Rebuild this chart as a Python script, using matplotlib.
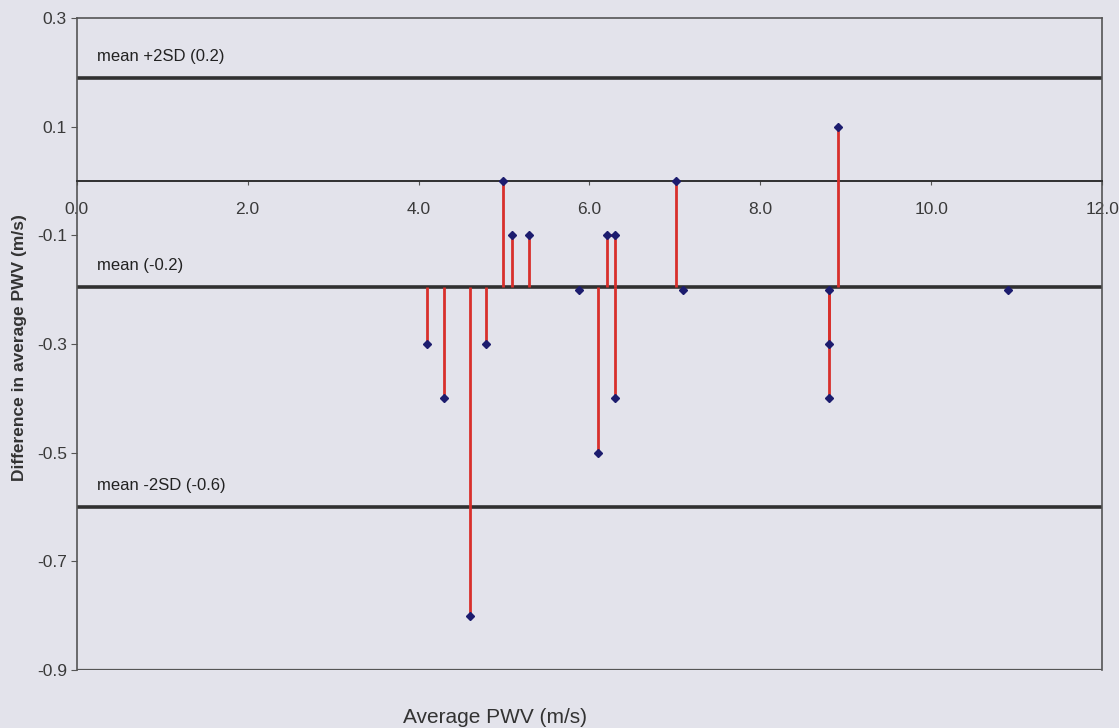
import numpy as np
import matplotlib.pyplot as plt

# Bland-Altman style data: average PWV vs difference (m/s)
avg_pwv = [4.10, 4.30, 4.60, 4.79, 4.99, 5.09, 5.29, 5.88, 6.10, 6.20, 6.30, 6.30,
           7.01, 7.10, 8.80, 8.80, 8.80, 8.91, 10.90]
diff_pwv = [-0.3, -0.4, -0.8, -0.3, 0.0, -0.1, -0.1, -0.2, -0.5, -0.1, -0.1, -0.4,
            0.0, -0.2, -0.2, -0.3, -0.4, 0.1, -0.2]

mean_diff = -0.195
upper_loa = 0.19
lower_loa = -0.60
line_labels = ["mean +2SD (0.2)", "mean (-0.2)", "mean -2SD (-0.6)"]

xticks = [0, 2, 4, 6, 8, 10, 12]
yticks = [0.3, 0.1, -0.1, -0.3, -0.5, -0.7, -0.9]

bg = "#e3e3eb"
dark = "#303030"
red = "#d8302c"
navy = "#1c1c6e"

plt.rcParams["font.family"] = ["Liberation Sans", "DejaVu Sans"]

fig = plt.figure(figsize=(11.19, 7.28), dpi=100, facecolor=bg)
ax = fig.add_axes([0.0685, 0.0797, 0.9165, 0.8953])
ax.set_facecolor(bg)

ax.set_xlim(0, 12)
ax.set_ylim(-0.9, 0.3)

# limits of agreement and mean
for yv in (upper_loa, mean_diff, lower_loa):
    ax.axhline(yv, color=dark, lw=2.6, zorder=2)

for yv, txt in zip((upper_loa, mean_diff, lower_loa), line_labels):
    ax.text(0.24, yv + 0.04, txt, fontsize=12, color="#222222", va="center", ha="left")

# red stems from the mean line to each point
x = np.array(avg_pwv)
y = np.array(diff_pwv)
ax.vlines(x, mean_diff, y, color=red, lw=2.0, zorder=3)
for i in range(len(x) - 1):
    if y[i] == y[i + 1] and y[i] != -0.2 and 0 < x[i + 1] - x[i] < 0.15:
        ax.plot(x[i:i + 2], y[i:i + 2], color=red, lw=2.0, zorder=3)

ax.plot(x, y, linestyle="none", marker="D", ms=4.5, color=navy, zorder=4)

# x axis runs through zero, box closes at the bottom
ax.spines["bottom"].set_position(("data", 0))
ax.spines["bottom"].set_color(dark)
ax.spines["bottom"].set_linewidth(1.4)
for s in ("left", "right", "top"):
    ax.spines[s].set_color("#555555")
    ax.spines[s].set_linewidth(1.2)
ax.axhline(-0.9, color="#555555", lw=1.6, zorder=1)

ax.set_xticks(xticks)
ax.set_xticklabels(["%.1f" % v for v in xticks])
ax.set_yticks(yticks)
ax.set_yticklabels(["%.1f" % v for v in yticks])
ax.tick_params(axis="x", length=3, color="#555555", labelsize=12.5, labelcolor="#3a3a3a", pad=12)
ax.tick_params(axis="y", length=4, color="#555555", labelsize=12.5, labelcolor="#3a3a3a", pad=3)

fig.text(0.017, 0.523, "Difference in average PWV (m/s)", rotation=90, fontsize=12.5,
         fontweight="bold", color="#333333", ha="center", va="center")
fig.text(0.442, 0.014, "Average PWV (m/s)", fontsize=15, color="#333333",
         ha="center", va="center")

fig.savefig("out.png", dpi=100, facecolor=bg)
